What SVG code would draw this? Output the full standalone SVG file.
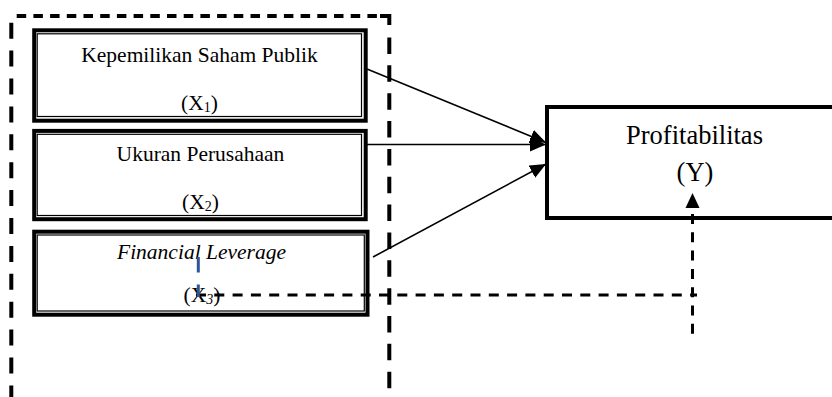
<svg xmlns="http://www.w3.org/2000/svg" width="832" height="397" viewBox="0 0 832 397">
  <style>
    .txt { font-family: "Liberation Serif", "Times New Roman", serif; fill: #000; text-anchor: middle; }
    .lbl { font-size: 21.5px; }
    .big { font-size: 26.5px; }
    .sub { font-size: 14px; }
    .thick { fill: none; stroke: #000; stroke-width: 4; }
    .thin { fill: none; stroke: #000; stroke-width: 1.2; }
    .frame { fill: none; stroke: #000; stroke-width: 4; }
    .arrow { fill: none; stroke: #000; stroke-width: 1.6; }
    .dash { fill: none; stroke: #000; stroke-width: 3; stroke-dasharray: 10 8.3; }
  </style>
  <defs>
    <marker id="head" markerUnits="userSpaceOnUse" markerWidth="17" markerHeight="15" refX="16" refY="7" orient="auto">
      <path d="M0,0 L16,7 L0,14 z" fill="#000"/>
    </marker>
  </defs>

  <rect width="832" height="397" fill="#fff"/>

  <!-- dashed frame around the independent variables -->
  <g id="frame">
    <line class="frame" x1="11.3" y1="22.7" x2="11.3" y2="397" stroke-dasharray="16 11.9"/>
    <line class="frame" x1="16.7" y1="16" x2="378" y2="16" stroke-dasharray="9.5 7.2"/>
    <path class="frame" d="M380,16 H389.3 V25"/>
    <line class="frame" x1="389.3" y1="37.5" x2="389.3" y2="397" stroke-dasharray="16.5 11.35"/>
  </g>

  <g id="x1">
    <rect class="thick" x="34.2" y="30.3" width="331.5" height="90.4"/>
    <rect class="thin" x="37.2" y="33.8" width="324.3" height="82.7"/>
    <text class="txt lbl" x="199.5" y="61.7">Kepemilikan Saham Publik</text>
    <text class="txt lbl" x="199.5" y="110">(X<tspan class="sub" dy="2">1</tspan><tspan dy="-2">)</tspan></text>
  </g>

  <g id="x2">
    <rect class="thick" x="34.2" y="130.9" width="331.5" height="88.3"/>
    <rect class="thin" x="37.2" y="134.3" width="324.3" height="81.2"/>
    <text class="txt lbl" x="200.5" y="161">Ukuran Perusahaan</text>
    <text class="txt lbl" x="200.5" y="209">(X<tspan class="sub" dy="2">2</tspan><tspan dy="-2">)</tspan></text>
  </g>

  <g id="x3">
    <rect class="thick" x="34.2" y="231.7" width="333.3" height="83"/>
    <rect class="thin" x="37.2" y="235" width="327.1" height="76"/>
    <text class="txt lbl" x="201.5" y="259" font-style="italic">Financial Leverage</text>
    <text class="txt lbl" x="202" y="302">(X<tspan class="sub" dy="2" font-style="italic">3</tspan><tspan dy="-2">)</tspan></text>
  </g>

  <g id="y">
    <rect class="thick" x="547" y="107" width="300" height="111"/>
    <text class="txt big" x="694.5" y="144">Profitabilitas</text>
    <text class="txt big" x="695" y="181">(Y)</text>
  </g>

  <g id="connectors">
    <line class="arrow" x1="367" y1="69" x2="546" y2="142.5" marker-end="url(#head)"/>
    <line class="arrow" x1="367" y1="144.5" x2="546" y2="144.5" marker-end="url(#head)"/>
    <line class="arrow" x1="373" y1="257" x2="546" y2="164" marker-end="url(#head)"/>
    <!-- moderating path into Y -->
    <line class="dash" x1="196" y1="295" x2="697" y2="295"/>
    <line class="dash" x1="692.5" y1="214" x2="692.5" y2="337"/>
    <polygon points="692.5,193 699.5,208 685.5,208" fill="#000"/>
    <line x1="198.3" y1="257" x2="198.3" y2="297" stroke="#2f5597" stroke-width="3" stroke-dasharray="15.5 12"/>
  </g>
</svg>
